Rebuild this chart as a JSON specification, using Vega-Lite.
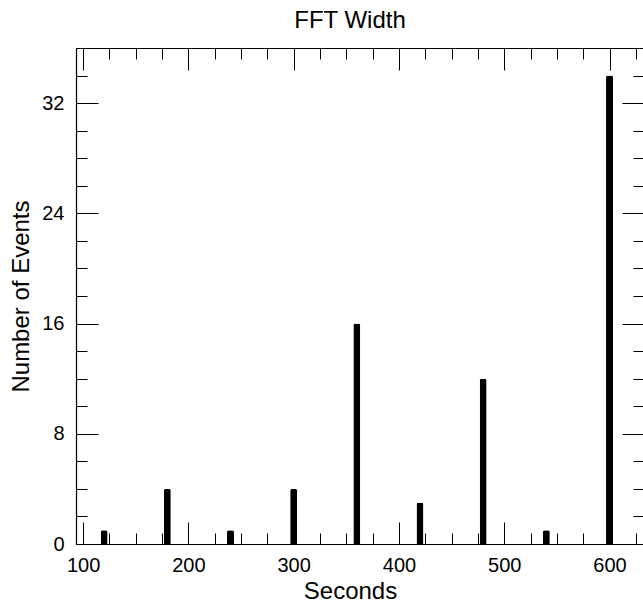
{
  "$schema": "https://vega.github.io/schema/vega-lite/v6.json",
  "width": 568,
  "height": 496,
  "autosize": "none",
  "padding": {"left": 76, "top": 48, "right": 0, "bottom": 60},
  "background": "white",
  "config": {
    "font": "Liberation Sans",
    "view": {"stroke": null},
    "axis": {
      "domainColor": "black", "domainWidth": 1.2,
      "tickColor": "black", "tickWidth": 1,
      "labelColor": "black", "titleColor": "black",
      "grid": false,
      "labelFont": "Liberation Sans", "titleFont": "Liberation Sans",
      "labelFontSize": 20, "titleFontSize": 24, "titleFontWeight": "normal"
    }
  },
  "title": {"text": "FFT Width", "fontSize": 24, "fontWeight": "normal", "font": "Liberation Sans", "color": "black", "dx": -10, "offset": 15},
  "data": {"values": [
    {"sec": 120, "count": 1},
    {"sec": 180, "count": 4},
    {"sec": 240, "count": 1},
    {"sec": 300, "count": 4},
    {"sec": 360, "count": 16},
    {"sec": 420, "count": 3},
    {"sec": 480, "count": 12},
    {"sec": 540, "count": 1},
    {"sec": 600, "count": 34}
  ]},
  "resolve": {"axis": {"x": "independent", "y": "independent"}},
  "layer": [
    {
      "mark": {"type": "bar", "orient": "vertical", "width": 7, "color": "black", "cornerRadiusTopLeft": 2, "cornerRadiusTopRight": 2},
      "encoding": {
        "x": {"field": "sec", "type": "quantitative", "scale": {"domain": [98, 628], "nice": false, "zero": false},
          "axis": {"orient": "bottom", "values": [100, 200, 300, 400, 500, 600], "tickSize": -22, "labelPadding": 33, "title": "Seconds", "titleX": 274, "titleY": 54, "titleBaseline": "alphabetic", "titleAnchor": "middle", "labelFlush": false}},
        "y": {"field": "count", "type": "quantitative", "scale": {"domain": [0, 36], "nice": false},
          "axis": {"orient": "left", "values": [0, 8, 16, 24, 32], "tickSize": -22, "labelPadding": 34, "title": "Number of Events", "titleX": -48, "titleY": 248, "titleBaseline": "alphabetic", "titleAnchor": "middle", "titleAngle": -90, "labelFlush": false}}
      }
    },
    {
      "mark": {"type": "bar", "orient": "vertical", "width": 7, "opacity": 0},
      "encoding": {
        "x": {"field": "sec", "type": "quantitative", "scale": {"domain": [98, 628], "nice": false, "zero": false},
          "axis": {"orient": "bottom", "values": [100, 125, 150, 175, 225, 250, 275, 325, 350, 375, 425, 450, 475, 525, 550, 575, 625], "tickSize": -11, "labels": false, "title": null, "domain": false}},
        "y": {"field": "count", "type": "quantitative", "scale": {"domain": [0, 36], "nice": false},
          "axis": {"orient": "left", "values": [2, 4, 6, 10, 12, 14, 18, 20, 22, 26, 28, 30, 34, 36], "tickSize": -11, "labels": false, "title": null, "domain": false}}
      }
    },
    {
      "mark": {"type": "bar", "orient": "vertical", "width": 7, "opacity": 0},
      "encoding": {
        "x": {"field": "sec", "type": "quantitative", "scale": {"domain": [98, 628], "nice": false, "zero": false},
          "axis": {"orient": "top", "values": [100, 200, 300, 400, 500, 600], "tickSize": -22, "labels": false, "title": null}},
        "y": {"field": "count", "type": "quantitative", "scale": {"domain": [0, 36], "nice": false},
          "axis": {"orient": "right", "values": [0, 8, 16, 24, 32], "tickSize": -22, "labels": false, "title": null}}
      }
    },
    {
      "mark": {"type": "bar", "orient": "vertical", "width": 7, "opacity": 0},
      "encoding": {
        "x": {"field": "sec", "type": "quantitative", "scale": {"domain": [98, 628], "nice": false, "zero": false},
          "axis": {"orient": "top", "values": [125, 150, 175, 225, 250, 275, 325, 350, 375, 425, 450, 475, 525, 550, 575, 625], "tickSize": -11, "labels": false, "title": null, "domain": false}},
        "y": {"field": "count", "type": "quantitative", "scale": {"domain": [0, 36], "nice": false},
          "axis": {"orient": "right", "values": [2, 4, 6, 10, 12, 14, 18, 20, 22, 26, 28, 30, 34], "tickSize": -11, "labels": false, "title": null, "domain": false}}
      }
    }
  ]
}
